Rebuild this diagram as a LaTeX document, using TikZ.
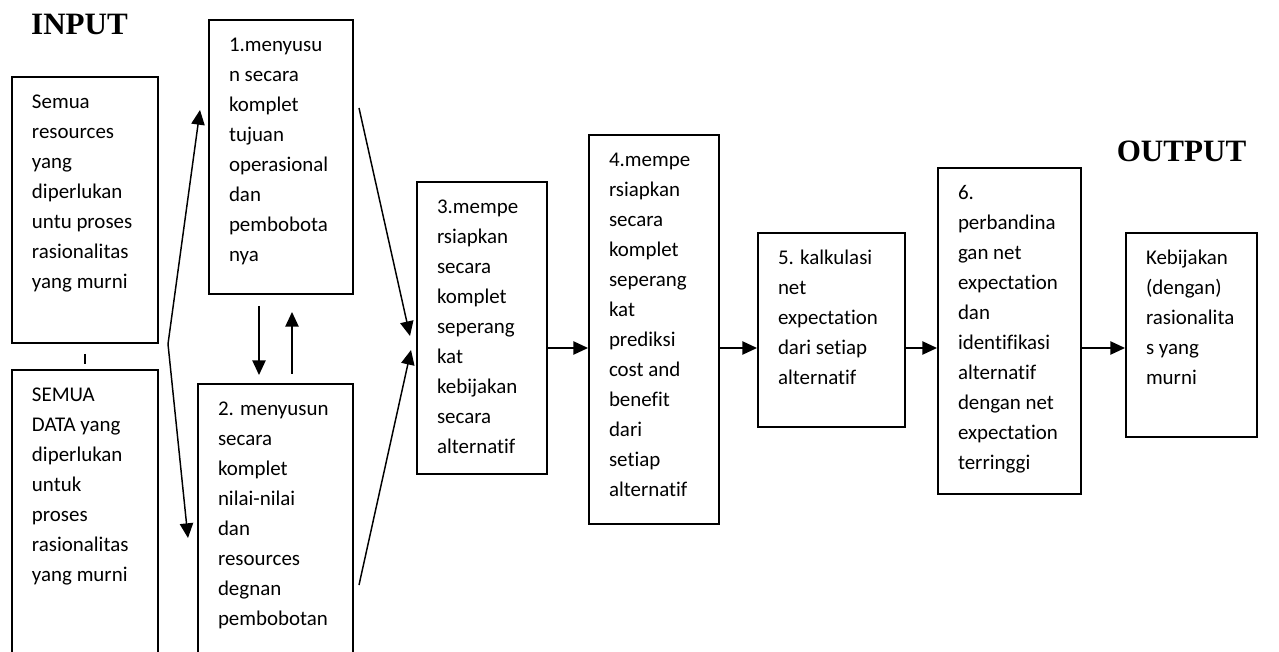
\documentclass[tikz,border=0pt]{standalone}
\usepackage{fontspec}
\usetikzlibrary{arrows.meta,calc}
\newfontfamily\boxfont[Ligatures=NoCommon]{Carlito}
\newfontfamily\headfont{Liberation Serif}
\newlength{\pxu}
\setlength{\pxu}{0.75pt}
% text block of a box: width, height (in px), lines
\newcommand{\boxtext}[3]{\parbox[t][#2\pxu][t]{#1\pxu}{\raggedright\leftskip=20\pxu
  \rule{0pt}{32\pxu}#3}}

\begin{document}
\begin{tikzpicture}[x=0.75pt, y=-0.75pt,
  stepbox/.style={draw, line width=1.5pt, inner sep=0pt, anchor=north west,
    font=\boxfont\fontsize{15.7}{22.5}\selectfont},
  headlabel/.style={anchor=base, font=\headfont\bfseries\fontsize{23.3}{28}\selectfont},
  arr/.style={-{Triangle[length=11pt,width=10pt]}, line width=1.1pt}]
\useasboundingbox (0,0) rectangle (1279,652);
\clip (0,0) rectangle (1279,652);

\node[headlabel] (inlab) at (79.5,35) {INPUT};
\node[headlabel] (outlab) at (1181.5,162) {OUTPUT};

% input boxes
\node[stepbox] (ina) at (11,76) {\boxtext{146}{266}{Semua\\resources\\yang\\diperlukan\\untu proses\\rasionalitas\\yang murni}};
\node[stepbox] (inb) at (11,369) {\boxtext{146}{300}{SEMUA\\DATA yang\\diperlukan\\untuk\\proses\\rasionalitas\\yang murni}};

% steps
\node[stepbox] (s1) at (208,19) {\boxtext{144}{274}{1.menyusu\\n secara\\komplet\\tujuan\\operasional\\dan\\pembobota\\nya}};
\node[stepbox] (s2) at (197,383) {\boxtext{155}{290}{2. menyusun\\secara\\komplet\\nilai-nilai\\dan\\resources\\degnan\\pembobotan}};
\node[stepbox] (s3) at (416,181) {\boxtext{130}{292}{3.mempe\\rsiapkan\\secara\\komplet\\seperang\\kat\\kebijakan\\secara\\alternatif}};
\node[stepbox] (s4) at (588,134) {\boxtext{130}{389}{4.mempe\\rsiapkan\\secara\\komplet\\seperang\\kat\\prediksi\\cost and\\benefit\\dari\\setiap\\alternatif}};
\node[stepbox] (s5) at (757,232) {\boxtext{147}{194}{5. kalkulasi\\net\\expectation\\dari setiap\\alternatif}};
\node[stepbox] (s6) at (937,167) {\boxtext{143}{326}{6.\\perbandina\\gan net\\expectation\\dan\\identifikasi\\alternatif\\dengan net\\expectation\\terringgi}};
\node[stepbox] (out) at (1125,232) {\boxtext{131}{204}{Kebijakan\\(dengan)\\rasionalita\\s yang\\murni}};

\draw[line width=0.8pt, shorten <=7.5pt, shorten >=3.75pt] (ina.south) -- (inb.north);

\coordinate (fork) at ($(ina.south east)+(9,0)$);
\draw[arr] (fork) -- ($(s1.north west)+(-8,91)$);
\draw[arr] (fork) -- ($(s2.north west)+(-9,155)$);

\draw[arr] ($(s1.south)+(-22,11)$) -- ($(s1.south)+(-22,80)$);
\draw[arr] ($(s1.south)+(11,79)$) -- ($(s1.south)+(11,17)$);

\draw[arr] ($(s1.north east)+(5,89)$) -- ($(s3.north west)+(-6,155)$);
\draw[arr] ($(s2.north east)+(5,202)$) -- ($(s3.north west)+(-5,169)$);

\coordinate (flow) at (0,348);
\foreach \a/\b in {s3/s4, s4/s5, s5/s6, s6/out}
  \draw[arr] (\a.east |- flow) -- (\b.west |- flow);
\end{tikzpicture}
\end{document}
